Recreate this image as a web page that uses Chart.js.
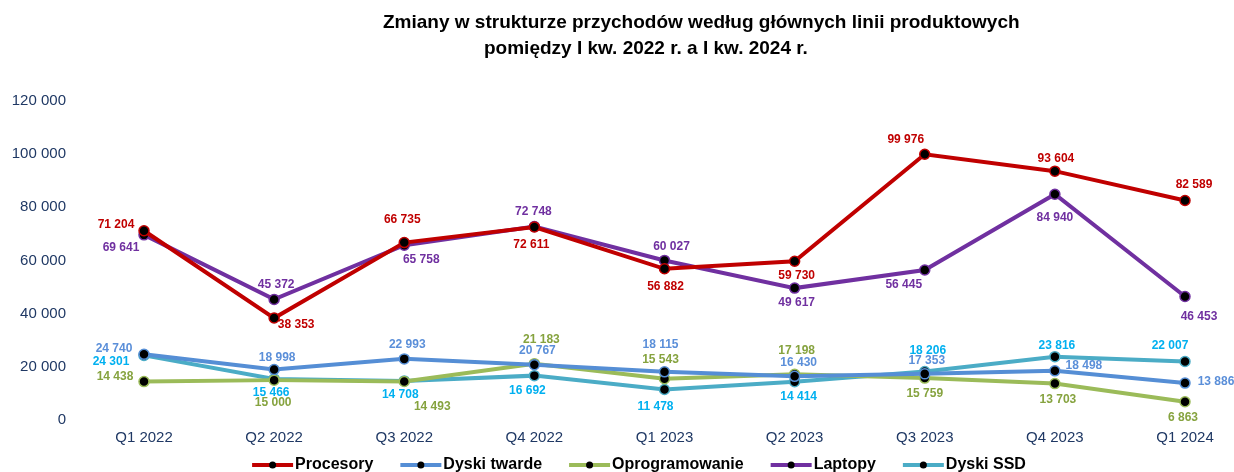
<!DOCTYPE html>
<html>
<head>
<meta charset="utf-8">
<script src="https://cdn.jsdelivr.net/npm/chart.js@4"></script>
<style>
  html, body { margin: 0; padding: 0; background: #fff; }
  #wrap { width: 1234px; height: 472px; }
</style>
</head>
<body>
<div id="wrap"><canvas id="myChart" width="1234" height="472"></canvas></div>
<script>
// data
var categories = ['Q1 2022', 'Q2 2022', 'Q3 2022', 'Q4 2022', 'Q1 2023', 'Q2 2023', 'Q3 2023', 'Q4 2023', 'Q1 2024'];
var procesory = [71204, 38353, 66735, 72611, 56882, 59730, 99976, 93604, 82589];
var dyskiTwarde = [24740, 18998, 22993, 20767, 18115, 16430, 17353, 18498, 13886];
var oprogramowanie = [14438, 15000, 14493, 21183, 15543, 17198, 15759, 13703, 6863];
var laptopy = [69641, 45372, 65758, 72748, 60027, 49617, 56445, 84940, 46453];
var dyskiSSD = [24301, 15466, 14708, 16692, 11478, 14414, 18206, 23816, 22007];
var yTicks = [0, 20000, 40000, 60000, 80000, 100000, 120000];
var titleLines = ['Zmiany w strukturze przychodów według głównych linii produktowych',
                  'pomiędzy I kw. 2022 r. a I kw. 2024 r.'];

// where each value label sits relative to its point [dx, dy]
var labelOffsets = {
  'Procesory': [[-28,-6],[22,7],[-2,-23],[-3,18],[1,18],[2,14],[-19,-15],[1,-12],[9,-16]],
  'Dyski twarde': [[-30,-6],[3,-12],[3,-14],[3,-14],[-4,-27],[4,-14],[2,-13],[29,-5],[31,-1]],
  'Oprogramowanie': [[-29,-5],[-1,23],[28,25],[7,-24],[-4,-19],[2,-24],[0,16],[3,16],[-2,16]],
  'Laptopy': [[-23,13],[2,-15],[17,14],[-1,-15],[7,-14],[2,15],[-21,15],[0,23],[14,20]],
  'Dyski SSD': [[-33,6],[-3,14],[-4,14],[-7,15],[-9,17],[4,15],[3,-21],[2,-11],[-15,-16]]
};

function fmt(v) {
  return String(v).replace(/\B(?=(\d{3})+(?!\d))/g, ' ');
}

function series(label, data, color, labelColor) {
  return {
    label: label,
    data: data,
    borderColor: color,
    backgroundColor: color,
    borderWidth: 4,
    tension: 0,
    pointRadius: 5,
    pointBorderWidth: 1.5,
    pointBorderColor: color,
    pointBackgroundColor: '#000',
    labelColor: labelColor
  };
}

var valueLabels = {
  id: 'valueLabels',
  afterDatasetsDraw: function(chart) {
    var ctx = chart.ctx;
    ctx.save();
    ctx.font = 'bold 12px "Liberation Sans", Arial, sans-serif';
    ctx.textAlign = 'center';
    ctx.textBaseline = 'middle';
    chart.data.datasets.forEach(function(ds, di) {
      var meta = chart.getDatasetMeta(di);
      var offs = labelOffsets[ds.label];
      ctx.fillStyle = ds.labelColor;
      meta.data.forEach(function(pt, i) {
        ctx.fillText(fmt(ds.data[i]), pt.x + offs[i][0], pt.y + offs[i][1]);
      });
    });
    ctx.restore();
  }
};

// title (two lines, left aligned with an indent on the second one) and bottom legend
var extras = {
  id: 'extras',
  afterDraw: function(chart) {
    var ctx = chart.ctx;
    ctx.save();
    ctx.font = 'bold 19px "Liberation Sans", Arial, sans-serif';
    ctx.fillStyle = '#000';
    ctx.textAlign = 'left';
    ctx.textBaseline = 'middle';
    ctx.fillText(titleLines[0], 383, 23);
    ctx.fillText(titleLines[1], 484, 49);

    ctx.font = 'bold 16px "Liberation Sans", Arial, sans-serif';
    var sets = chart.data.datasets;
    var markW = 41, gap = 2, spacing = 27;
    var total = 0;
    sets.forEach(function(ds, i) {
      total += markW + gap + ctx.measureText(ds.label).width + (i ? spacing : 0);
    });
    var x = 639 - total / 2, y = 465;
    sets.forEach(function(ds) {
      ctx.strokeStyle = ds.borderColor;
      ctx.lineWidth = 4;
      ctx.beginPath(); ctx.moveTo(x, y); ctx.lineTo(x + markW, y); ctx.stroke();
      ctx.fillStyle = '#000';
      ctx.beginPath(); ctx.arc(x + markW / 2, y, 3.5, 0, Math.PI * 2); ctx.fill();
      ctx.fillText(ds.label, x + markW + gap, y);
      x += markW + gap + ctx.measureText(ds.label).width + spacing;
    });
    ctx.restore();
  }
};

var ctx = document.getElementById('myChart').getContext('2d');
var myChart = new Chart(ctx, {
  type: 'line',
  data: {
    labels: categories,
    datasets: [
      series('Procesory', procesory, '#C00000', '#C00000'),
      series('Dyski twarde', dyskiTwarde, '#558ED5', '#5B8FD9'),
      series('Oprogramowanie', oprogramowanie, '#9BBB59', '#86A33F'),
      series('Laptopy', laptopy, '#7030A0', '#7030A0'),
      series('Dyski SSD', dyskiSSD, '#4BACC6', '#00B0F0')
    ]
  },
  options: {
    responsive: false,
    animation: false,
    layout: { padding: { top: 101, left: 0, right: 49, bottom: 22 } },
    plugins: {
      title: { display: false },
      tooltip: { enabled: false },
      legend: { display: false }
    },
    scales: {
      x: {
        offset: false,
        grid: { display: false, drawTicks: false },
        border: { display: false },
        ticks: {
          padding: 9,
          color: '#1F3864',
          font: { family: '"Liberation Sans", Arial, sans-serif', size: 15 }
        },
        afterFit: function(s) { s.height = 30; }
      },
      y: {
        min: yTicks[0],
        max: yTicks[yTicks.length - 1],
        grid: { display: false, drawTicks: false },
        border: { display: false },
        afterBuildTicks: function(s) { s.ticks = yTicks.map(function(v) { return { value: v }; }); },
        ticks: {
          padding: 78,
          color: '#1F3864',
          font: { family: '"Liberation Sans", Arial, sans-serif', size: 15 },
          callback: function(v) { return fmt(v); }
        },
        afterFit: function(s) {
          s.width = 144;
          // the large tick padding would otherwise be reserved above and below the plot
          s.paddingTop = 0;
          s.paddingBottom = 0;
        }
      }
    }
  },
  plugins: [valueLabels, extras]
});
</script>
</body>
</html>
